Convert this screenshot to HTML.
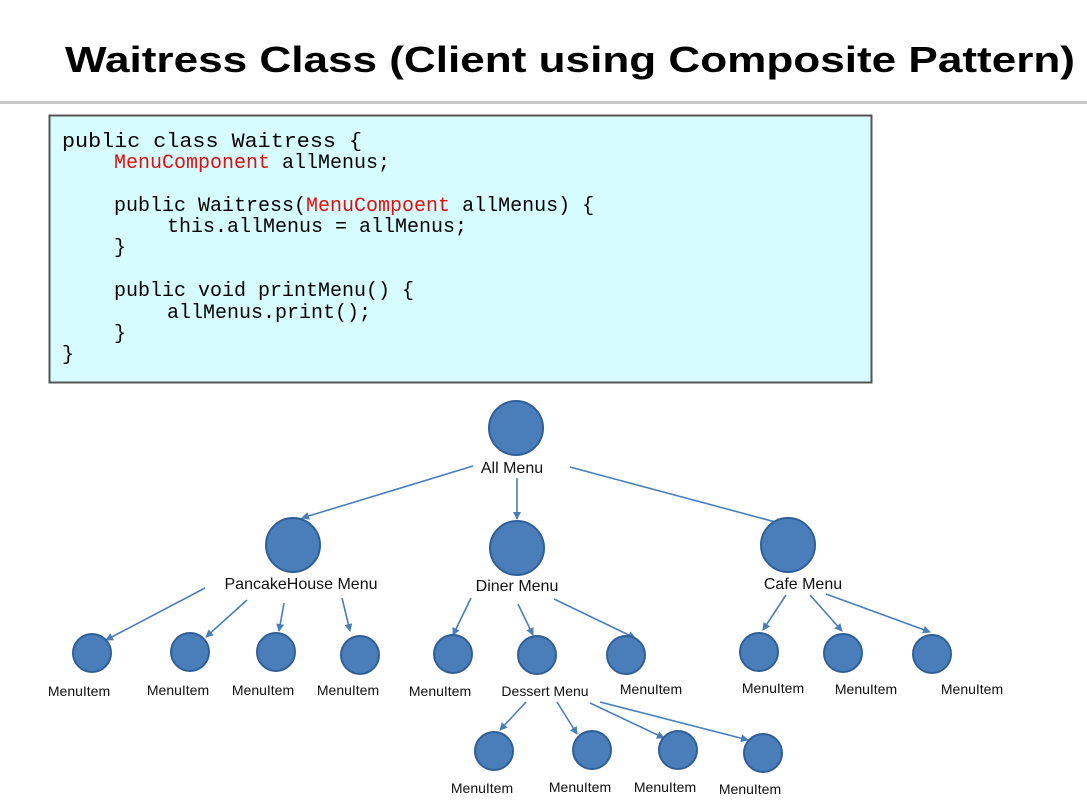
<!DOCTYPE html>
<html><head><meta charset="utf-8"><style>
html,body{margin:0;padding:0;background:#fff;}
svg{display:block;}
</style></head><body>
<svg width="1087" height="803" viewBox="0 0 1087 803" xmlns="http://www.w3.org/2000/svg">
<defs>
<marker id="a" markerWidth="8" markerHeight="8" refX="7" refY="4" orient="auto" markerUnits="userSpaceOnUse">
<path d="M0,0 L8,4 L0,8 z" fill="#4a7ebb"/>
</marker>
</defs>
<text x="570" y="72" text-anchor="middle" font-family="Liberation Sans, sans-serif" font-weight="bold" font-size="36" textLength="1010" lengthAdjust="spacingAndGlyphs">Waitress Class (Client using Composite Pattern)</text>
<rect x="0" y="101" width="1087" height="3" fill="#c8c8c8"/>
<rect x="49.5" y="115.5" width="822" height="267" fill="#d6fcff" stroke="#555" stroke-width="2"/>
<g font-family="Liberation Mono, monospace" font-size="20">
<text x="62" y="147" textLength="300" lengthAdjust="spacingAndGlyphs">public class Waitress {</text>
<text x="114" y="168"><tspan fill="#e01010">MenuComponent</tspan> allMenus;</text>
<text x="114" y="211">public Waitress(<tspan fill="#e01010">MenuCompoent</tspan> allMenus) {</text>
<text x="167" y="232">this.allMenus = allMenus;</text>
<text x="114" y="253">}</text>
<text x="114" y="296">public void printMenu() {</text>
<text x="167" y="318">allMenus.print();</text>
<text x="114" y="339">}</text>
<text x="62" y="360">}</text>
</g>
<g stroke="#4a7ebb" stroke-width="1.6" marker-end="url(#a)">
<line x1="473" y1="466" x2="302" y2="518"/>
<line x1="517" y1="478" x2="517" y2="519"/>
<line x1="570" y1="467" x2="783" y2="524"/>
<line x1="205" y1="588" x2="106" y2="640"/>
<line x1="247" y1="600" x2="206" y2="637"/>
<line x1="284" y1="603" x2="279" y2="631"/>
<line x1="342" y1="598" x2="350" y2="631"/>
<line x1="471" y1="598" x2="453" y2="635"/>
<line x1="518" y1="604" x2="533" y2="635"/>
<line x1="554" y1="599" x2="635" y2="638"/>
<line x1="786" y1="595" x2="763" y2="630"/>
<line x1="810" y1="595" x2="842" y2="631"/>
<line x1="826" y1="594" x2="930" y2="632"/>
<line x1="526" y1="702" x2="500" y2="730"/>
<line x1="557" y1="702" x2="577" y2="734"/>
<line x1="590" y1="703" x2="664" y2="738"/>
<line x1="600" y1="702" x2="748" y2="740"/>
</g>
<g fill="#4a7ebb" stroke="#2f5f96" stroke-width="2">
<circle cx="516" cy="428" r="27"/>
<circle cx="293" cy="545" r="27"/>
<circle cx="517" cy="548" r="27"/>
<circle cx="788" cy="545" r="27"/>
<circle cx="92" cy="653" r="19"/>
<circle cx="190" cy="652" r="19"/>
<circle cx="276" cy="652" r="19"/>
<circle cx="360" cy="655" r="19"/>
<circle cx="453" cy="654" r="19"/>
<circle cx="537" cy="655" r="19"/>
<circle cx="626" cy="655" r="19"/>
<circle cx="759" cy="652" r="19"/>
<circle cx="843" cy="653" r="19"/>
<circle cx="932" cy="654" r="19"/>
<circle cx="494" cy="751" r="19"/>
<circle cx="592" cy="750" r="19"/>
<circle cx="678" cy="750" r="19"/>
<circle cx="763" cy="753" r="19"/>
</g>
<g font-family="Liberation Sans, sans-serif" font-size="16" text-anchor="middle" fill="#111">
<text x="512" y="473">All Menu</text>
<text x="301" y="589">PancakeHouse Menu</text>
<text x="517" y="591">Diner Menu</text>
<text x="803" y="589">Cafe Menu</text>
</g>
<g font-family="Liberation Sans, sans-serif" font-size="14" text-anchor="middle" fill="#111">
<text x="79" y="696">MenuItem</text>
<text x="178" y="695">MenuItem</text>
<text x="263" y="695">MenuItem</text>
<text x="348" y="695">MenuItem</text>
<text x="440" y="696">MenuItem</text>
<text x="545" y="696">Dessert Menu</text>
<text x="651" y="694">MenuItem</text>
<text x="773" y="693">MenuItem</text>
<text x="866" y="694">MenuItem</text>
<text x="972" y="694">MenuItem</text>
<text x="482" y="793">MenuItem</text>
<text x="580" y="792">MenuItem</text>
<text x="665" y="792">MenuItem</text>
<text x="750" y="794">MenuItem</text>
</g>
</svg>
</body></html>
